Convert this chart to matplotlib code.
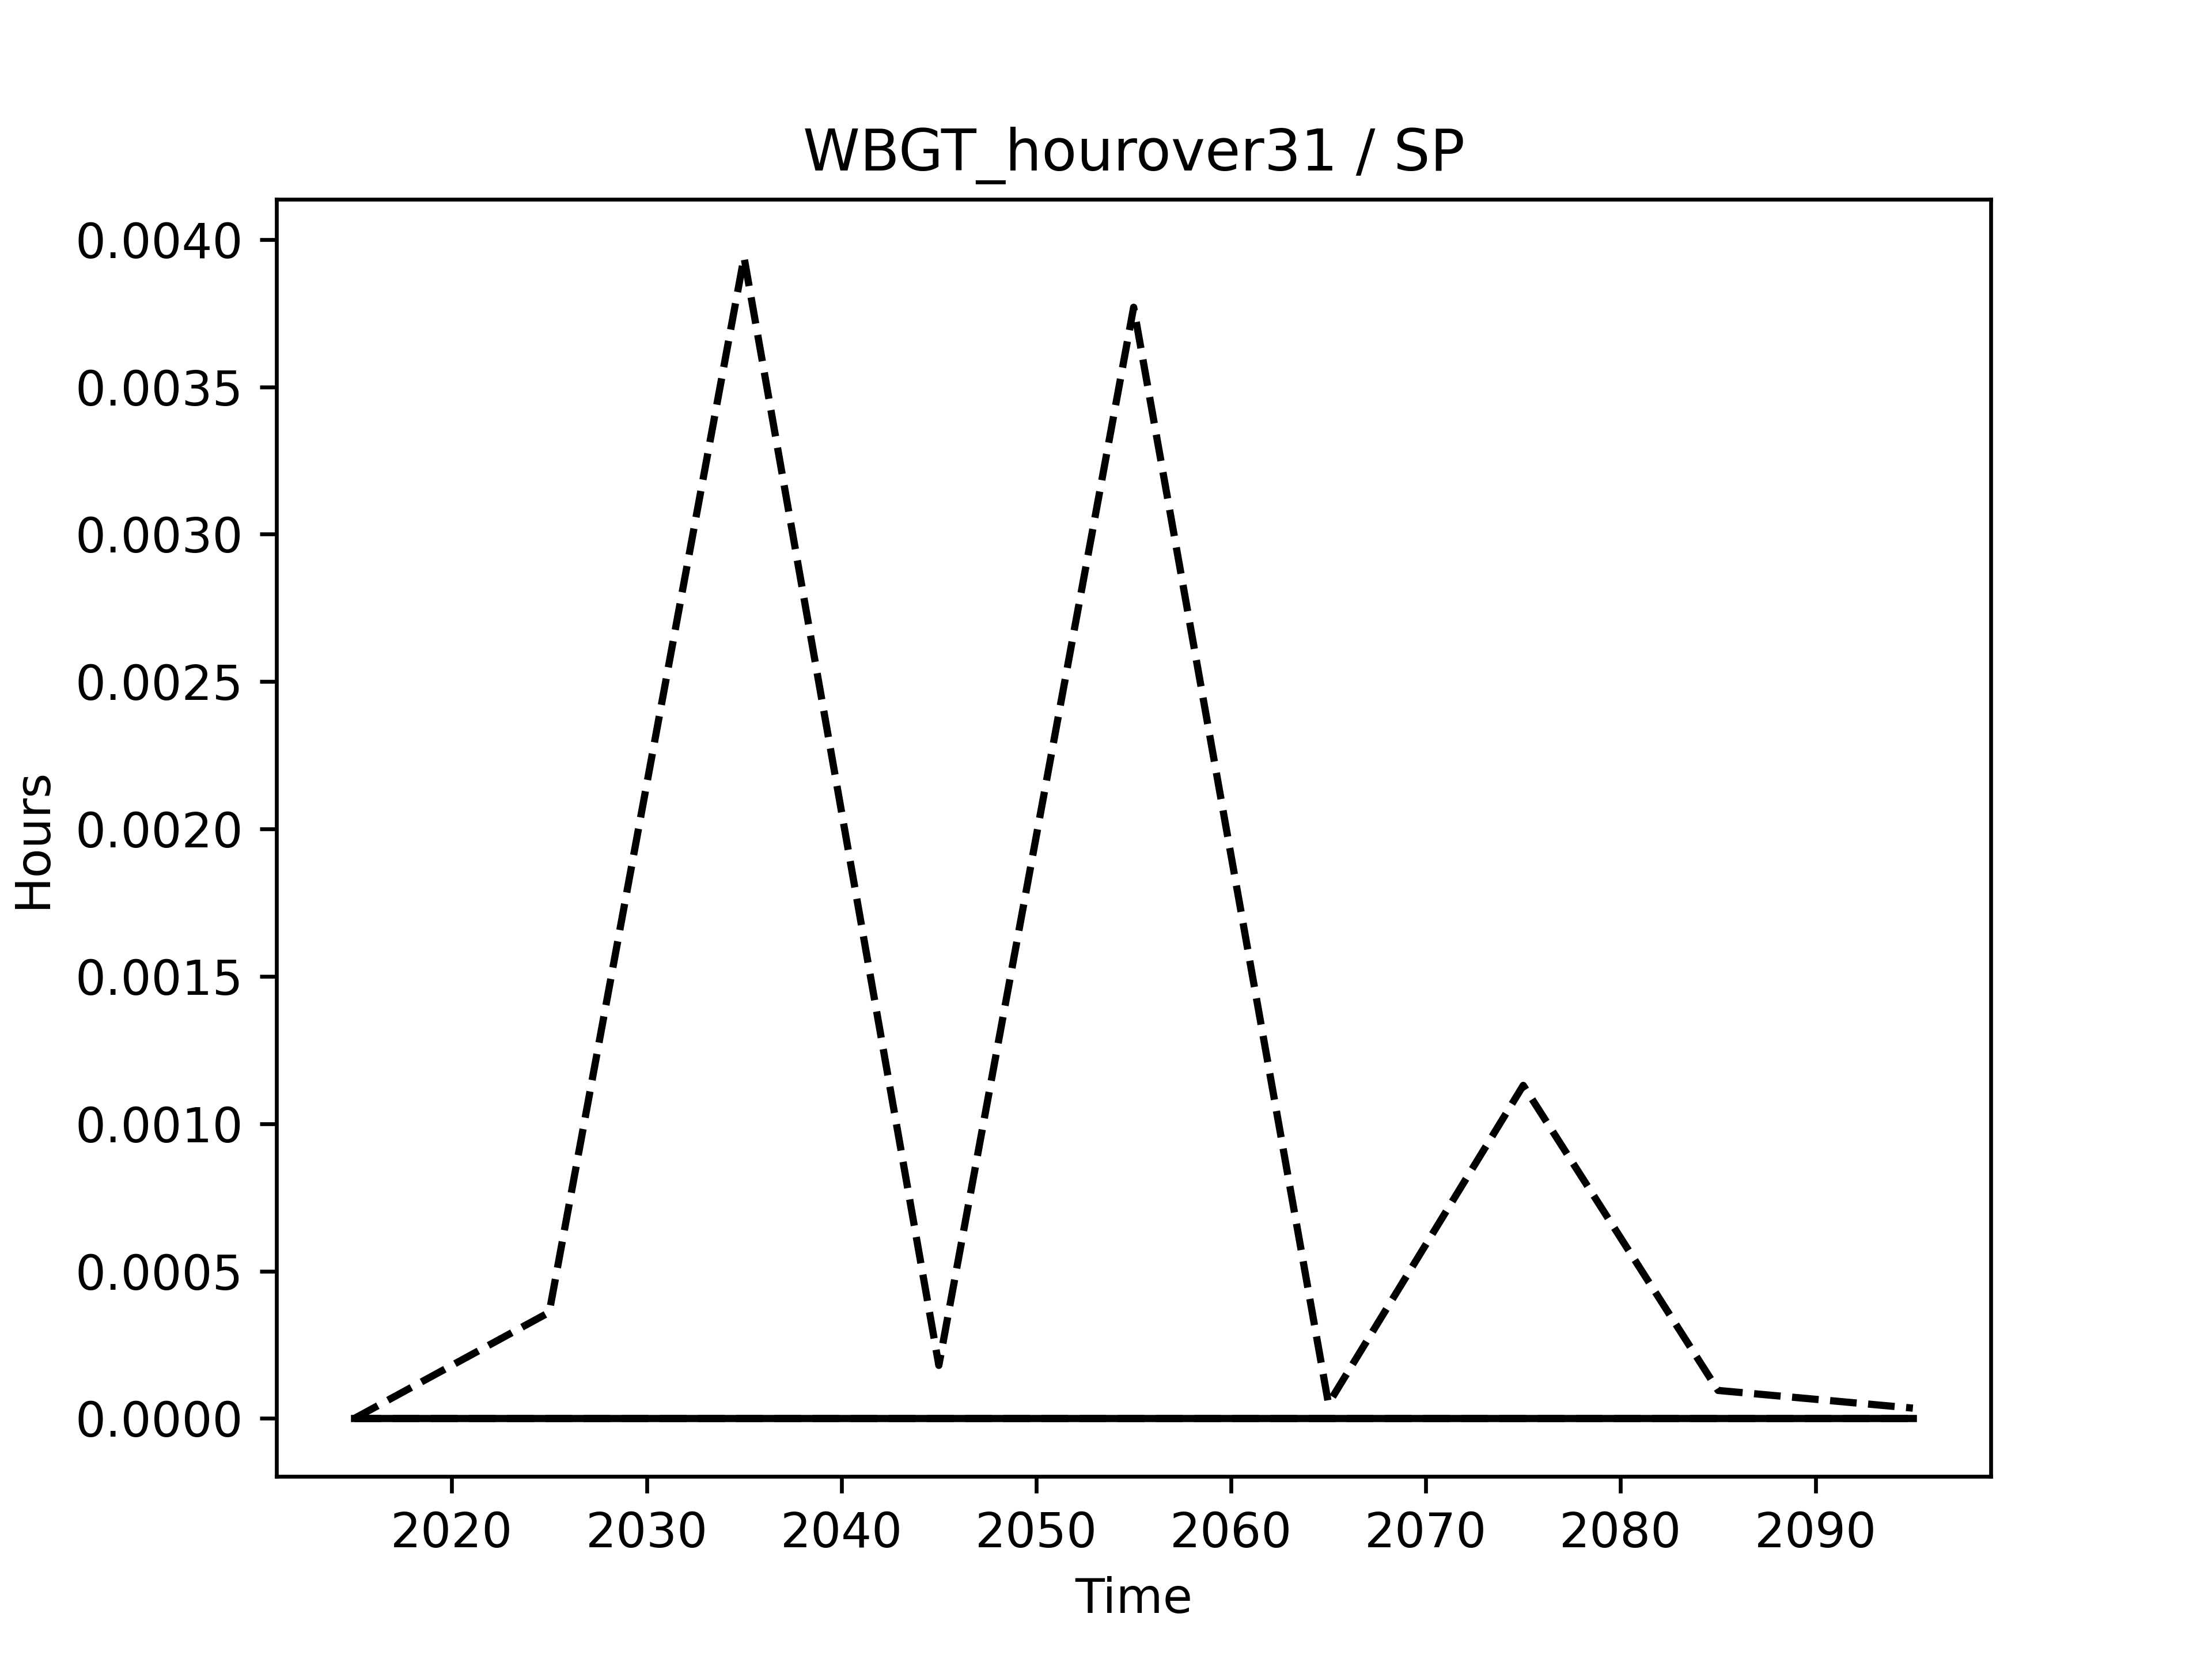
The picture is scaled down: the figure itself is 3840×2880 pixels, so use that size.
import numpy as np
import matplotlib
matplotlib.use("Agg")
import matplotlib.pyplot as plt

years = [2015, 2025, 2035, 2045, 2055, 2065, 2075, 2085, 2095]
hours_dashed = [0.0, 0.00036, 0.00394, 0.00018, 0.00377, 0.00005, 0.00113, 0.000095, 0.000035]
hours_zero_dashed = [0.0] * len(years)
hours_solid = [0.0] * len(years)

fig, ax = plt.subplots(figsize=(6.4, 4.8))

ax.plot(years, hours_dashed, color='k', linestyle='--')
ax.plot(years, hours_zero_dashed, color='k', linestyle='--')
ax.plot(years, hours_solid, color='k', linestyle='-')

ax.set_title('WBGT_hourover31 / SP')
ax.set_xlabel('Time')
ax.set_ylabel('Hours')

fig.savefig('out.png', dpi=600)
